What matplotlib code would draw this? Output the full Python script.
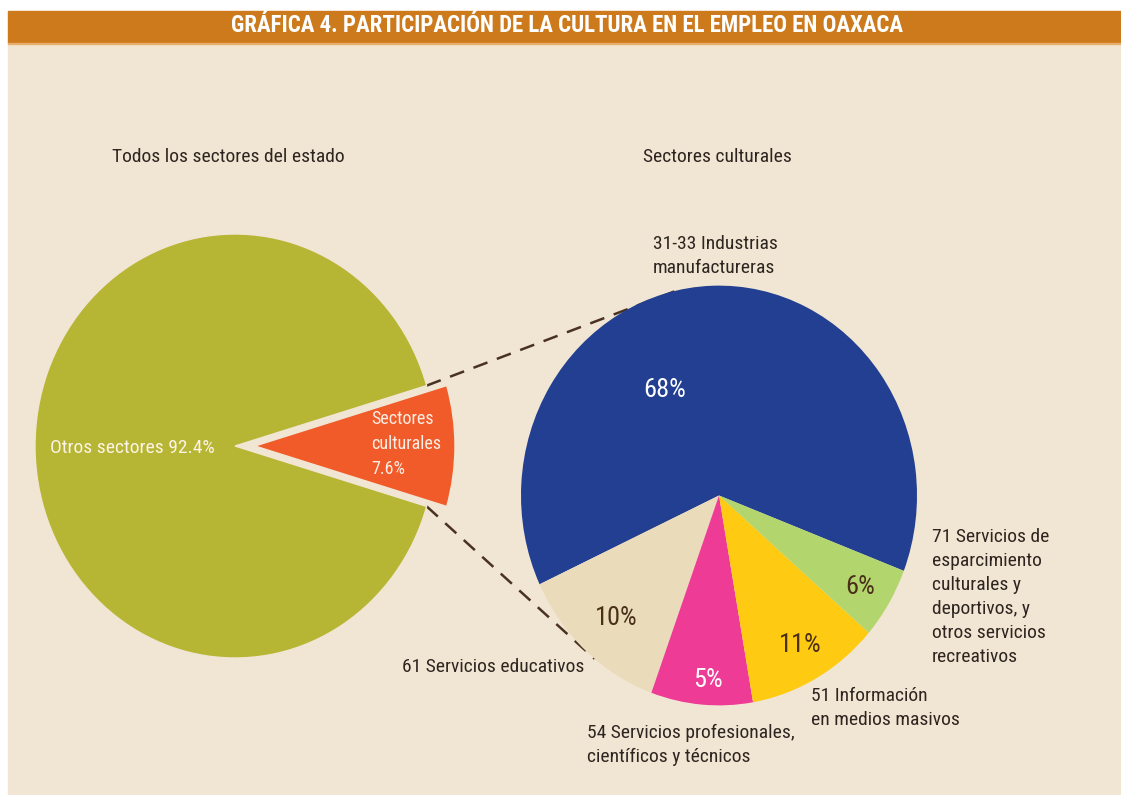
import matplotlib.pyplot as plt
from matplotlib.patches import Rectangle
import numpy as np

# wedge sizes as drawn in the source graphic, printed labels kept apart
state_names = ["Otros sectores", "Sectores culturales"]
state_shares = [90.8, 9.2]
state_labels = ["Otros sectores 92.4%", "Sectores\nculturales\n7.6%"]

cult_names = ["31-33 Industrias\nmanufactureras",
              "61 Servicios educativos",
              "54 Servicios profesionales,\ncientíficos y técnicos",
              "51 Información\nen medios masivos",
              "71 Servicios de\nesparcimiento\nculturales y\ndeportivos, y\notros servicios\nrecreativos"]
cult_shares = [62.8, 12.5, 8.3, 10.9, 5.5]
cult_pct = ["68%", "10%", "5%", "11%", "6%"]

W, H = 1121, 795
SY = 1.06  # source is a bit stretched vertically

def py(y):
    # image pixel row -> data y
    return (H - y) / SY

bg = '#F1E6D3'
bar = '#CC7A1C'
ink = '#2E2520'
plt.rcParams['font.family'] = ['Roboto Condensed', 'DejaVu Sans']

fig = plt.figure(figsize=(W / 100, H / 100), dpi=100)
fig.patch.set_facecolor('white')
fig.patches.append(Rectangle((8 / W, 0), 1, (H - 43) / H, transform=fig.transFigure,
                             color=bg, zorder=-2))
fig.patches.append(Rectangle((8 / W, (H - 43) / H), 1, 32 / H, transform=fig.transFigure,
                             color=bar, zorder=-2))
fig.patches.append(Rectangle((8 / W, (H - 44) / H), 1, 1.5 / H, transform=fig.transFigure,
                             color='#E8AE6C', zorder=-1))
fig.text(567 / W, 1 - 25 / H, "GRÁFICA 4. PARTICIPACIÓN DE LA CULTURA EN EL EMPLEO EN OAXACA",
         color='white', fontsize=16.5, fontweight='bold', ha='center', va='center')

ax = fig.add_axes([0, 0, 1, 1])
ax.patch.set_alpha(0)

# left pie, cultural slice pulled out
lc = (235, py(446))
lr = 200
wl, _ = ax.pie(state_shares, colors=['#B7B534', '#F15A29'], center=lc, radius=lr,
               startangle=state_shares[1] / 100 * 180, explode=[0, 0.1 * lr],
               wedgeprops=dict(edgecolor=bg, linewidth=1))

# right pie
rc = (719, py(495.5))
rr = 198
wr, _ = ax.pie(cult_shares, colors=['#233F91', '#EADBBA', '#EE3B96', '#FFCB12', '#B2D56E'],
               center=rc, radius=rr, startangle=-21.05,
               wedgeprops=dict(edgecolor='none'))

# dashed connectors from the cut-out wedge to the second pie
for a1, a2 in [(wl[1].theta2, 102.2), (wl[1].theta1, 231.1)]:
    x0 = lc[0] + lr * np.cos(np.radians(a1))
    y0 = lc[1] + lr * np.sin(np.radians(a1))
    x1 = rc[0] + rr * np.cos(np.radians(a2))
    y1 = rc[1] + rr * np.sin(np.radians(a2))
    ax.plot([x0, x1], [y0, y1], color='#4A3222', lw=1.8, dashes=(6, 4), zorder=0.5)

ax.set_aspect('auto')
ax.set_xlim(0, W)
ax.set_ylim(0, H / SY)
ax.axis('off')

fs = 14
ls = 1.43
ax.text(228, py(157), "Todos los sectores del estado", fontsize=fs, color=ink, ha='center', va='center')
ax.text(717, py(157), "Sectores culturales", fontsize=fs, color=ink, ha='center', va='center')

ax.text(50, py(448), state_labels[0], fontsize=fs, color='#FBF3E6', ha='left', va='center')
ax.text(371, py(444), state_labels[1], fontsize=13, color='#FBEDE4', ha='left', va='center',
        linespacing=1.5)

ax.text(653, py(256), cult_names[0], fontsize=fs, color=ink, ha='left', va='center', linespacing=ls)
ax.text(402, py(667), cult_names[1], fontsize=fs, color=ink, ha='left', va='center')
ax.text(587, py(745), cult_names[2], fontsize=fs, color=ink, ha='left', va='center', linespacing=ls)
ax.text(811, py(708), cult_names[3], fontsize=fs, color=ink, ha='left', va='center', linespacing=ls)
ax.text(932, py(597), cult_names[4], fontsize=fs, color=ink, ha='left', va='center', linespacing=ls)

pct_pos = [(665, 390), (616, 618), (708, 680), (800, 645), (860, 587)]
pct_col = ['white', '#4A3019', 'white', '#4A3019', '#4A3019']
for t, (x, y), c in zip(cult_pct, pct_pos, pct_col):
    ax.text(x, py(y), t, fontsize=19, color=c, ha='center', va='center')

fig.savefig('out.png', dpi=100, facecolor=fig.get_facecolor())
